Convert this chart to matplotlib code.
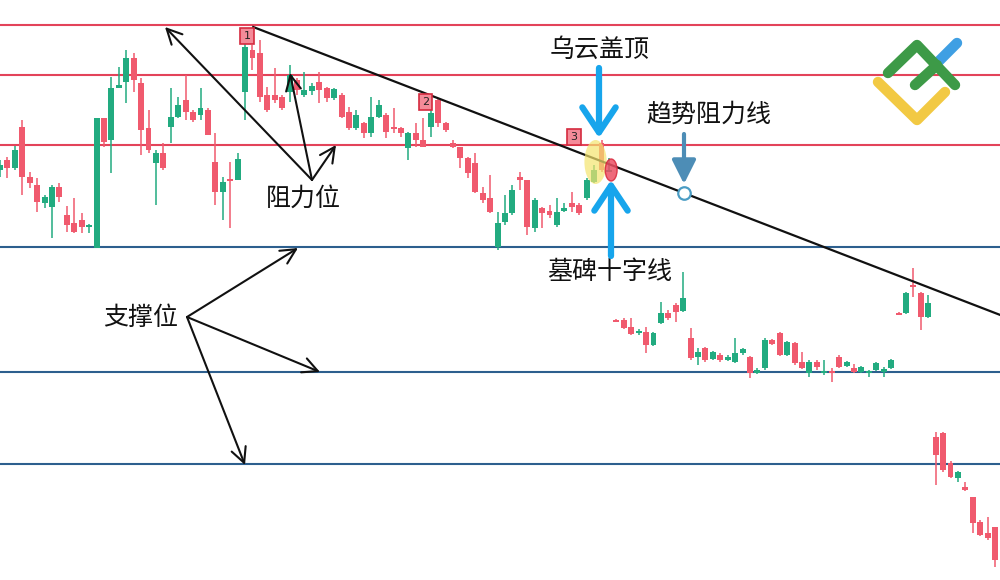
"""Candlestick chart with support / resistance levels and a falling trend line."""
import matplotlib

matplotlib.use("Agg")

import numpy as np
import matplotlib.pyplot as plt
from matplotlib.patches import Ellipse

plt.rcParams["font.family"] = ["Noto Sans CJK SC", "DejaVu Sans"]

# Prices are read as screen rows of the chart (top = 0), so the y axis is flipped.
opens = [170, 160, 168, 127, 177, 185, 203, 207, 187, 215, 223, 220, 227, 248, 118, 140, 88, 82, 58, 83,
         128, 163, 153, 127, 117, 100, 112, 115, 110, 162, 192, 179, 180, 92, 50, 53, 95, 95, 97, 92,
         80, 95, 91, 82, 88, 98, 95, 112, 128, 123, 133, 117, 115, 127, 128, 148, 133, 140, 127, 100,
         123, 143, 147, 158, 163, 193, 198, 247, 222, 213, 177, 180, 228, 208, 211, 225, 211, 203, 205, 198,
         182, 143, 171, 320, 320, 327, 333, 332, 345, 323, 313, 305, 311, 338, 357, 348, 359, 355, 360, 362,
         353, 357, 373, 368, 340, 333, 355, 343, 362, 373, 362, 373, 371, 357, 366, 368, 372, 373, 370, 372,
         368, 313, 313, 285, 293, 317, 437, 433, 463, 478, 487, 497, 522, 533, 527]
highs = [160, 157, 146, 120, 172, 178, 195, 185, 183, 206, 198, 213, 224, 118, 118, 77, 67, 50, 53, 78,
         110, 150, 143, 88, 97, 75, 110, 88, 108, 133, 177, 162, 153, 43, 45, 40, 87, 68, 95, 65,
         78, 72, 83, 72, 87, 88, 93, 107, 110, 122, 97, 100, 113, 108, 127, 132, 123, 118, 100, 98,
         122, 140, 147, 157, 153, 187, 175, 212, 195, 185, 172, 180, 198, 207, 205, 198, 203, 192, 203, 178,
         165, 140, 158, 319, 318, 318, 329, 327, 332, 302, 310, 303, 272, 328, 348, 347, 351, 353, 355, 338,
         348, 356, 368, 338, 339, 332, 341, 342, 352, 360, 360, 360, 368, 355, 361, 364, 366, 370, 362, 367,
         359, 312, 292, 268, 292, 295, 432, 432, 461, 471, 482, 497, 520, 517, 527]
lows = [177, 178, 170, 195, 188, 212, 208, 238, 202, 232, 233, 233, 233, 248, 147, 173, 88, 103, 92, 155,
        153, 205, 170, 143, 118, 120, 122, 120, 135, 205, 220, 228, 180, 120, 70, 102, 112, 103, 110, 102,
        95, 97, 95, 103, 102, 100, 118, 130, 130, 138, 137, 118, 138, 133, 137, 160, 147, 147, 137, 127,
        132, 148, 168, 178, 193, 203, 213, 250, 225, 215, 190, 235, 232, 228, 218, 227, 212, 212, 215, 200,
        183, 172, 172, 322, 329, 335, 335, 353, 346, 324, 320, 322, 312, 360, 365, 362, 360, 362, 361, 363,
        355, 378, 374, 370, 345, 356, 356, 365, 369, 377, 370, 375, 382, 368, 367, 373, 373, 377, 371, 377,
        369, 314, 314, 297, 330, 318, 485, 472, 478, 482, 491, 533, 536, 540, 567]
closes = [165, 168, 150, 177, 183, 202, 197, 187, 197, 225, 232, 227, 225, 118, 142, 88, 85, 58, 80, 130,
          150, 153, 168, 117, 105, 112, 120, 108, 135, 192, 182, 180, 159, 47, 58, 97, 110, 100, 108, 75,
          90, 90, 86, 90, 98, 89, 117, 128, 115, 133, 117, 105, 132, 129, 133, 133, 140, 147, 113, 123,
          130, 147, 158, 173, 192, 200, 212, 223, 213, 190, 180, 227, 200, 213, 215, 212, 208, 207, 213, 180,
          170, 170, 170, 321, 328, 334, 331, 345, 333, 313, 318, 312, 298, 358, 352, 360, 352, 360, 357, 353,
          349, 373, 370, 340, 344, 355, 342, 363, 368, 362, 367, 371, 373, 367, 362, 372, 367, 371, 363, 369,
          360, 313.5, 293, 287, 317, 303, 455, 470, 477, 472, 490, 523, 535, 538, 560]

resistance_levels = [25, 75, 145]
support_levels = [247, 372, 464]

# falling trend line from the swing high (bar index, level)
trend_x = [34.1, 134.7]
trend_y = [27, 315]
trend_touch_bar = 92.1

marked_bars = {"1": (33, 36), "2": (57, 102), "3": (77, 137)}

UP = "#22ab80"
DOWN = "#f05a6e"

W, H = 1000, 580
BAR_PX = 7.426

fig = plt.figure(figsize=(10, 5.8), dpi=100)
ax = fig.add_axes([0, 0, 1, 1])
ax.set_xlim(0, W / BAR_PX)
ax.set_ylim(H, 0)
ax.axis("off")

for lv in resistance_levels:
    ax.axhline(lv, color="#e3435a", lw=1.5, zorder=1)
for lv in support_levels:
    ax.axhline(lv, color="#2d5f8e", lw=1.5, zorder=1)

o = np.array(opens, dtype=float)
c = np.array(closes, dtype=float)
idx = np.arange(len(o))
cols = [UP if cc < oo else DOWN for oo, cc in zip(o, c)]
ax.vlines(idx, highs, lows, colors=cols, lw=1.1, zorder=2)
top = np.minimum(o, c)
ht = np.maximum(np.abs(o - c), 1.8)
ax.bar(idx, ht, bottom=top, width=0.8, color=cols, zorder=3)

ax.plot(trend_x, trend_y, color="#111111", lw=1.6, zorder=4)

# highlight of the dark cloud cover and the gravestone doji
ax.add_patch(Ellipse((80.2, 162), 3.0, 44, color="#f4e46e", alpha=0.7, lw=0, zorder=5))
ax.add_patch(Ellipse((82.3, 170), 1.6, 22, facecolor="#ec5064", edgecolor="#d8283c",
                     alpha=0.85, lw=1, zorder=5))

# circle where the trend line is tested
ax.plot([trend_touch_bar], [np.interp(trend_touch_bar, trend_x, trend_y)], "o", ms=9,
        mfc="white", mec="#4a9cc4", mew=1.6, zorder=6)

for lab, (bx, by) in marked_bars.items():
    ax.text(bx + 0.3, by, lab, ha="center", va="center", fontsize=8, color="#222222",
            family="DejaVu Sans", zorder=7,
            bbox=dict(boxstyle="square,pad=0.3", fc="#f48b99", ec="#d42a3e", lw=1.2))

# overlay in screen pixels for the annotations
ov = fig.add_axes([0, 0, 1, 1], facecolor="none")
ov.set_xlim(0, W)
ov.set_ylim(H, 0)
ov.axis("off")

txt = dict(fontsize=18, color="#111111", ha="center", va="center")
black = dict(arrowstyle="->,head_length=0.6,head_width=0.3", color="#111111", lw=1.5,
             mutation_scale=18, shrinkA=0, shrinkB=0)

ov.text(303, 199, "阻力位", **txt)
for tip in [(165, 27), (290, 73), (336, 145)]:
    ov.annotate("", xy=tip, xytext=(312, 180), arrowprops=black)

ov.text(141, 318, "支撑位", **txt)
for tip in [(298, 248), (320, 372), (245, 465)]:
    ov.annotate("", xy=tip, xytext=(187, 317), arrowprops=black)

ov.text(600, 50, "乌云盖顶", **txt)
ov.text(610, 272, "墓碑十字线", **txt)
ov.text(709, 115, "趋势阻力线", **txt)

bright = dict(arrowstyle="->,head_length=0.6,head_width=0.4", color="#17a5ec", lw=4.5,
              mutation_scale=30, shrinkA=0, shrinkB=0)
ov.annotate("", xy=(599, 138), xytext=(599, 68), arrowprops=bright)
ov.annotate("", xy=(611, 180), xytext=(611, 256), arrowprops=bright)

steel = dict(arrowstyle="-|>,head_length=0.9,head_width=0.45", color="#4d8db6", lw=3,
             mutation_scale=16, shrinkA=0, shrinkB=0)
ov.annotate("", xy=(684, 184), xytext=(684, 134), arrowprops=steel)

# logo
ov.plot([878, 917, 945], [82, 120, 92], color="#f2c943", lw=7.5, solid_capstyle="round",
        solid_joinstyle="round")
ov.plot([938, 957], [62, 43], color="#3f9fe3", lw=7.5, solid_capstyle="round")
ov.plot([888, 917, 955], [73, 45, 85], color="#3d9a47", lw=7.5, solid_capstyle="round",
        solid_joinstyle="round")
ov.plot([915, 937], [85, 65], color="#3d9a47", lw=7.5, solid_capstyle="round")

fig.savefig("out.png", dpi=100, facecolor="white")
